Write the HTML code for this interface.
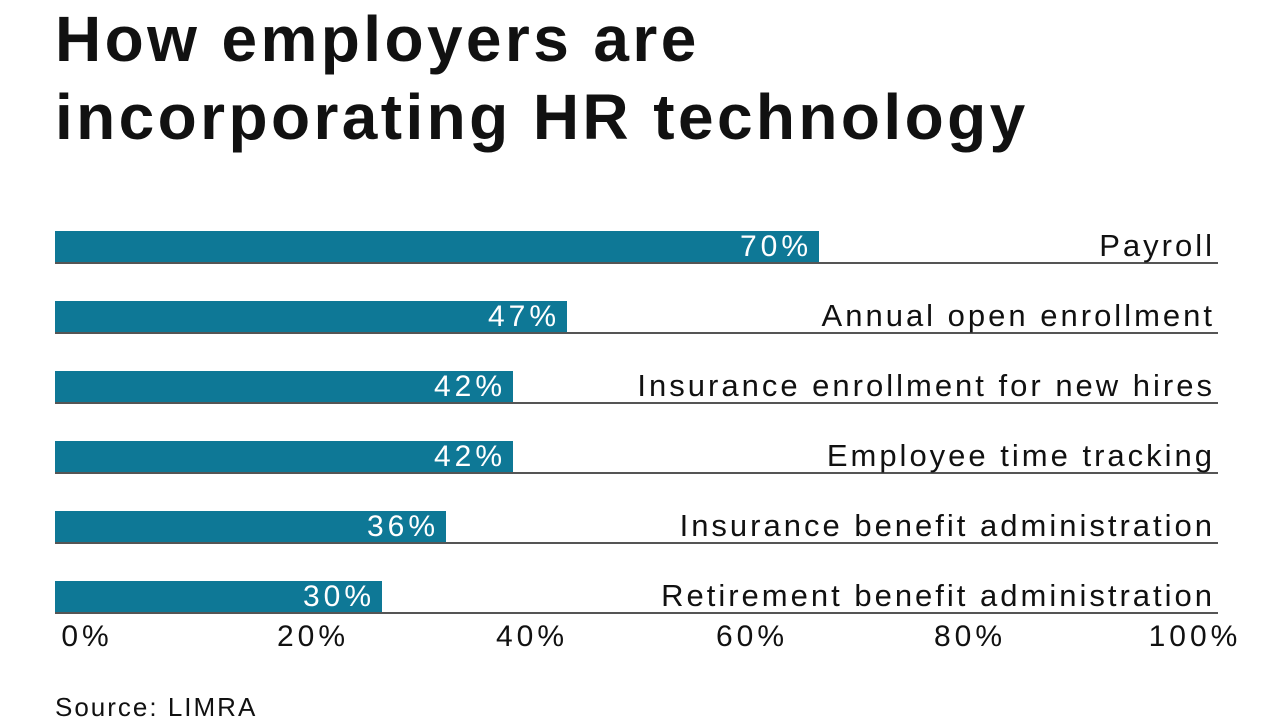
<!DOCTYPE html>
<html><head><meta charset="utf-8"><style>
html,body{margin:0;padding:0;background:#fff;}
body{width:1280px;height:720px;position:relative;overflow:hidden;font-family:"Liberation Sans",sans-serif;color:#111;}
.t{position:absolute;left:55px;font-size:64px;font-weight:bold;line-height:78px;letter-spacing:3.4px;}
.bar{position:absolute;left:55px;height:31px;background:#0e7896;}
.rule{position:absolute;left:55px;width:1163px;height:2px;background:#555;}
.v{position:absolute;color:#fff;font-size:30px;line-height:31px;text-align:right;letter-spacing:4px;}
.lab{position:absolute;right:65px;font-size:31px;line-height:36px;white-space:nowrap;letter-spacing:3px;}
.ax{position:absolute;top:620px;font-size:30px;width:140px;text-align:center;letter-spacing:4px;}
</style></head><body>
<div class="t" style="top:0px">How employers are</div>
<div class="t" style="top:78px">incorporating HR technology</div>

<div class="bar" style="top:231px;width:764px"></div><div class="rule" style="top:262px"></div>
<div class="v" style="top:231px;left:600px;width:212px">70%</div>
<div class="lab" style="top:228px">Payroll</div>

<div class="bar" style="top:301px;width:512px"></div><div class="rule" style="top:332px"></div>
<div class="v" style="top:301px;left:300px;width:260px">47%</div>
<div class="lab" style="top:298px">Annual open enrollment</div>

<div class="bar" style="top:371px;width:458px"></div><div class="rule" style="top:402px"></div>
<div class="v" style="top:371px;left:300px;width:206px">42%</div>
<div class="lab" style="top:368px">Insurance enrollment for new hires</div>

<div class="bar" style="top:441px;width:458px"></div><div class="rule" style="top:472px"></div>
<div class="v" style="top:441px;left:300px;width:206px">42%</div>
<div class="lab" style="top:438px">Employee time tracking</div>

<div class="bar" style="top:511px;width:391px"></div><div class="rule" style="top:542px"></div>
<div class="v" style="top:511px;left:200px;width:239px">36%</div>
<div class="lab" style="top:508px">Insurance benefit administration</div>

<div class="bar" style="top:581px;width:327px"></div><div class="rule" style="top:612px"></div>
<div class="v" style="top:581px;left:200px;width:175px">30%</div>
<div class="lab" style="top:578px">Retirement benefit administration</div>

<div class="ax" style="left:17px">0%</div>
<div class="ax" style="left:243px">20%</div>
<div class="ax" style="left:462px">40%</div>
<div class="ax" style="left:682px">60%</div>
<div class="ax" style="left:900px">80%</div>
<div class="ax" style="left:1125px">100%</div>

<div style="position:absolute;left:55px;top:692px;font-size:26px;letter-spacing:2px;">Source: LIMRA</div>
</body></html>
